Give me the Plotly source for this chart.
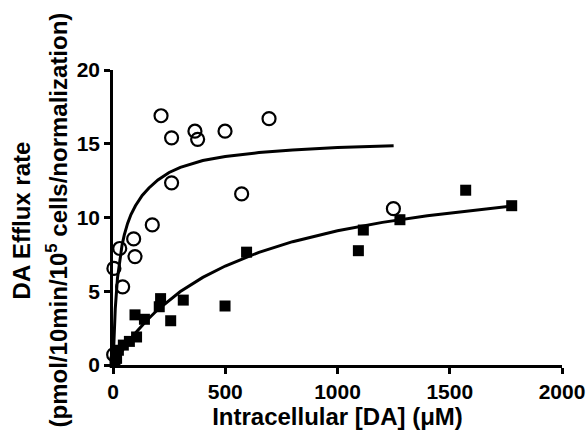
import plotly.graph_objects as go

# Open circles
circ_x = [214, 261, 365, 377, 499, 695, 261, 573, 175, 92, 98, 30, 4, 43, 3, 1249]
circ_y = [16.9, 15.4, 15.85, 15.3, 15.85, 16.7, 12.35, 11.6, 9.5, 8.55, 7.35, 7.9, 6.55, 5.3, 0.7, 10.6]

# Filled squares
sq_x = [595, 499, 313, 212, 206, 257, 98, 140, 105, 73, 46, 24, 16, 9, 1115, 1093, 1278, 1571, 1776]
sq_y = [7.65, 4.0, 4.4, 4.5, 3.95, 3.0, 3.4, 3.1, 1.9, 1.6, 1.35, 1.0, 0.45, 0.2, 9.15, 7.75, 9.85, 11.85, 10.8]

# Fitted curve (circles)
fit_c_x = [0, 5, 10, 20, 30, 40, 50, 65, 80, 100, 130, 160, 200, 250, 300, 400, 500, 650, 800, 1000, 1250]
fit_c_y = [0, 2.1, 3.8, 5.9, 7.2, 8.1, 8.8, 9.6, 10.2, 10.8, 11.5, 12.0, 12.55, 13.05, 13.40, 13.86, 14.13, 14.40, 14.58, 14.74, 14.86]

# Fitted curve (squares)
fit_s_x = [0, 25, 50, 100, 150, 200, 300, 400, 500, 650, 800, 1000, 1200, 1400, 1600, 1780]
fit_s_y = [0, 0.61, 1.18, 2.17, 3.02, 3.76, 4.98, 5.94, 6.71, 7.64, 8.36, 9.10, 9.67, 10.12, 10.49, 10.78]

x_ticks = [0, 500, 1000, 1500, 2000]
y_ticks = [0, 5, 10, 15, 20]

FONT = "Liberation Sans"

fig = go.Figure()
fig.add_trace(go.Scatter(x=fit_c_x, y=fit_c_y, mode="lines",
                         line=dict(color="black", width=3), cliponaxis=False,
                         showlegend=False))
fig.add_trace(go.Scatter(x=fit_s_x, y=fit_s_y, mode="lines",
                         line=dict(color="black", width=3), cliponaxis=False,
                         showlegend=False))
fig.add_trace(go.Scatter(x=circ_x, y=circ_y, mode="markers",
                         marker=dict(symbol="circle-open", size=13, color="black",
                                     line=dict(width=2.2, color="black")),
                         cliponaxis=False, showlegend=False))
fig.add_trace(go.Scatter(x=sq_x, y=sq_y, mode="markers",
                         marker=dict(symbol="square", size=11, color="black",
                                     line=dict(width=0)),
                         cliponaxis=False, showlegend=False))

axis_common = dict(showgrid=False, zeroline=False, showline=True, linecolor="black",
                   linewidth=2.5, ticks="outside", ticklen=6, tickwidth=2.5,
                   tickcolor="black", automargin=False,
                   tickfont=dict(family=FONT, size=21, color="black", weight="bold"))

fig.update_layout(
    width=587, height=445,
    margin=dict(l=113, r=25, t=70, b=80),
    paper_bgcolor="white", plot_bgcolor="white",
    xaxis=dict(range=[0, 2000], tickvals=x_ticks, ticktext=[str(v) for v in x_ticks],
               title=dict(text="Intracellular [DA] (μM)", standoff=6,
                          font=dict(family=FONT, size=24, color="black", weight="bold")),
               **axis_common),
    yaxis=dict(range=[0, 20], tickvals=y_ticks, ticktext=[str(v) for v in y_ticks],
               **axis_common),
    annotations=[
        dict(text="DA Efflux rate", xref="paper", yref="paper",
             x=(21 - 113) / 449, y=0.49, textangle=-90, showarrow=False,
             xanchor="center", yanchor="middle",
             font=dict(family=FONT, size=24, color="black", weight="bold")),
        dict(text="(pmol/10min/10<sup>5</sup> cells/normalization)", xref="paper", yref="paper",
             x=(57 - 113) / 449, y=0.49, textangle=-90, showarrow=False,
             xanchor="center", yanchor="middle",
             font=dict(family=FONT, size=24, color="black", weight="bold")),
    ],
)

fig.write_html("out.html")
